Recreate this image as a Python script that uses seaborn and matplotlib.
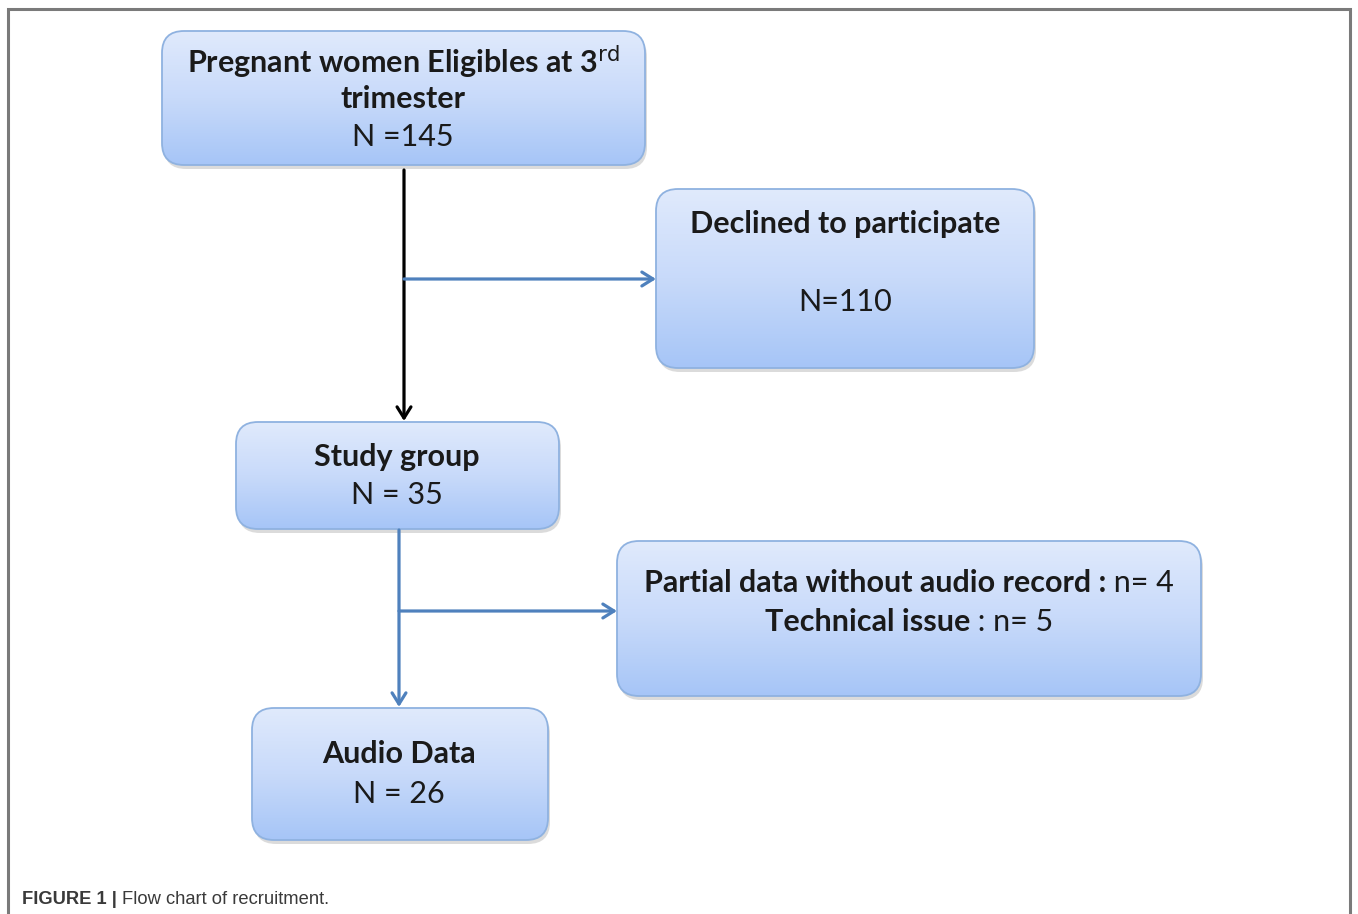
import numpy as np
import matplotlib
matplotlib.use("Agg")
import matplotlib.pyplot as plt
from matplotlib.patches import FancyBboxPatch, FancyArrowPatch
from matplotlib.colors import LinearSegmentedColormap
import seaborn as sns

sns.set_theme(style="white")
plt.rcParams['font.family'] = ['Lato', 'DejaVu Sans']

# Flow stages (title, count line)
stage_titles = ["Pregnant women Eligibles at 3$^{\\mathrm{rd}}$", "Declined to participate",
                "Study group", "Partial data without audio record :", "Audio Data"]
title_second_line = "trimester"
stage_counts = ["N =145", "N=110", "N = 35", " n= 4", "N = 26"]
extra_title = "Technical issue"
extra_count = " : n= 5"
caption_bold = "FIGURE 1 | "
caption_text = "Flow chart of recruitment."

W, H = 1358, 914
fig = plt.figure(figsize=(W / 100, H / 100), dpi=100)
ax = fig.add_axes([0, 0, 1, 1])
ax.set_xlim(0, W)
ax.set_ylim(H, 0)
ax.axis("off")
renderer = fig.canvas.get_renderer()

# outer frame (open at bottom)
ax.plot([8, 8, 1350, 1350], [914, 9, 9, 914], color="#7a7a7a", lw=2.2, solid_joinstyle="miter")

grad = np.linspace(0, 1, 256).reshape(-1, 1)
cmap = LinearSegmentedColormap.from_list("box", ["#e0eafc", "#c8dafa", "#a6c5f7"])


def box(x0, y0, x1, y1):
    r = 22
    sh = FancyBboxPatch((x0 + 2 + r, y0 + 4 + r), (x1 - x0) - 2 * r, (y1 - y0) - 2 * r,
                        boxstyle=f"round,pad={r}", fc="#9a9a9a", ec="none", alpha=0.35, zorder=1)
    ax.add_patch(sh)
    p = FancyBboxPatch((x0 + r, y0 + r), (x1 - x0) - 2 * r, (y1 - y0) - 2 * r,
                       boxstyle=f"round,pad={r}", fc="none", ec="#8fb2e0", lw=1.3, zorder=3)
    ax.add_patch(p)
    im = ax.imshow(grad, extent=(x0, x1, y1, y0), cmap=cmap, aspect="auto", zorder=2,
                   origin="upper")
    im.set_clip_path(p)


boxes = [(162, 31, 645, 165), (656, 189, 1034, 368), (236, 422, 559, 529),
         (617, 541, 1201, 696), (252, 708, 548, 840)]
for b in boxes:
    box(*b)

fs = 22
tc = "#1a1a1a"


def width_px(s, **kw):
    t = ax.text(0, 0, s, **kw)
    w = t.get_window_extent(renderer).width
    t.remove()
    return w


def mixed_line(cx, y, bold, normal, size, color, family=None, left=None):
    kwb = dict(fontsize=size, fontweight="bold", color=color)
    kwn = dict(fontsize=size, color=color)
    if family:
        kwb["family"] = family
        kwn["family"] = family
    wb = width_px(bold, **kwb)
    wn = width_px(normal, **kwn)
    x = left if left is not None else cx - (wb + wn) / 2
    ax.text(x, y, bold, ha="left", va="center", zorder=5, **kwb)
    ax.text(x + wb, y, normal, ha="left", va="center", zorder=5, **kwn)


def line(x, y, s, bold=False):
    ax.text(x, y, s, ha="center", va="center", fontsize=fs,
            fontweight="bold" if bold else "normal", color=tc, zorder=5)


# box 1
line(403, 61, stage_titles[0], True)
line(403, 99, title_second_line, True)
line(403, 137, stage_counts[0])
# box 2
line(845, 224, stage_titles[1], True)
line(845, 302, stage_counts[1])
# box 3
line(397, 457, stage_titles[2], True)
line(397, 495, stage_counts[2])
# box 4 (mixed weights)
mixed_line(909, 583, stage_titles[3], stage_counts[3], fs, tc)
mixed_line(909, 622, extra_title, extra_count, fs, tc)
# box 5
line(399, 754, stage_titles[4], True)
line(399, 794, stage_counts[4])

blue = "#4f81bd"
astyle = "->,head_length=8,head_width=5"
ax.add_patch(FancyArrowPatch((404, 170), (404, 421), arrowstyle=astyle,
                             color="black", lw=2.3, shrinkA=0, shrinkB=0, zorder=4))
ax.add_patch(FancyArrowPatch((404, 279), (656, 279), arrowstyle=astyle,
                             color=blue, lw=2.3, shrinkA=0, shrinkB=0, zorder=4))
ax.add_patch(FancyArrowPatch((399, 530), (399, 707), arrowstyle=astyle,
                             color=blue, lw=2.3, shrinkA=0, shrinkB=0, zorder=4))
ax.add_patch(FancyArrowPatch((399, 611), (617, 611), arrowstyle=astyle,
                             color=blue, lw=2.3, shrinkA=0, shrinkB=0, zorder=4))

# caption
mixed_line(0, 899, caption_bold, caption_text, 13.2, "#3a3a3a", family="Liberation Sans", left=22)

fig.savefig("out.png", dpi=100)
